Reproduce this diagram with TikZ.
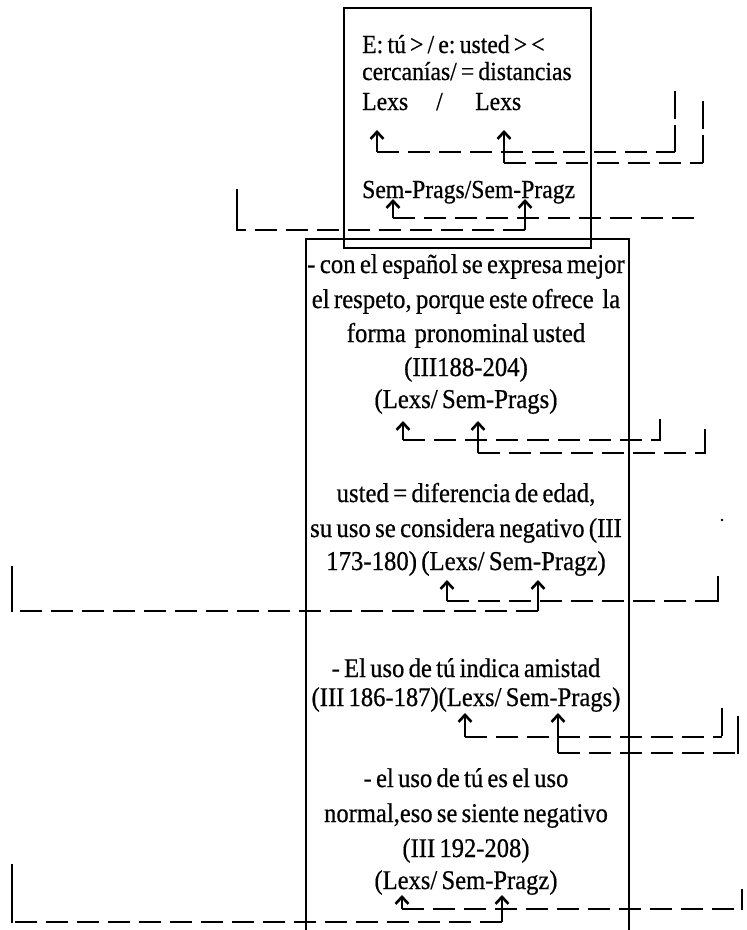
\documentclass[tikz,border=0pt]{standalone}
\usepackage{fontspec}
\setmainfont{Liberation Serif}[FakeStretch=0.91, WordSpace=0.7, FakeBold=0.6]
\usetikzlibrary{arrows.meta}
\begin{document}
\begin{tikzpicture}[x=1pt,y=-1pt,
  link/.style={line width=2.9pt, dash pattern=on 22pt off 9pt},
  vdash/.style={line width=2.9pt, dash pattern=on 28pt off 6pt},
  vsolid/.style={line width=2.9pt},
  tipln/.style={line width=2.9pt, -{Straight Barb[length=7pt,width=13pt,line width=2.6pt]}},
  frame/.style={draw, line width=1.7pt, inner sep=0pt},
  tl/.style={anchor=base west, inner sep=0pt, font=\fontsize{26}{30}\selectfont},
  ml/.style={anchor=base, inner sep=0pt, font=\fontsize{27.2}{31}\selectfont},
  bl/.style={anchor=base, inner sep=0pt, font=\fontsize{27}{31}\selectfont}]
\clip (0,0) rectangle (747,930);
% frames
\node[frame, minimum width=323, minimum height=740, anchor=north west] (mainbox) at (305,238) {};
\node[frame, minimum width=247, minimum height=240, anchor=north west] (topbox) at (343,7) {};
% top box texts
\node[tl] (t1) at (362,53) {E:\,tú > / e:\,usted > <};
\node[tl] (t2) at (362,80) {cercanías/ = distancias};
\node[tl] (t3a) at (362,110) {Lexs};
\node[tl] (t3b) at (436,110) {/};
\node[tl] (t3c) at (475,110) {Lexs};
\node[tl] (t4) at (362,198) {Sem-Prags/Sem-Pragz};
% main box texts
\node[ml] (m1) at (466,273) {- con el español se expresa mejor};
\node[ml] (m2) at (466,308) {el respeto, porque este ofrece\ \ la};
\node[ml] (m3) at (466,342) {forma\ \ pronominal usted};
\node[ml] (m4) at (466,376) {(III188-204)};
\node[ml] (m5) at (466,408) {(Lexs/ Sem-Prags)};
\node[ml] (m6) at (466,502) {usted = diferencia de edad,};
\node[ml] (m7) at (466,537) {su uso se considera negativo (III};
\node[ml] (m8) at (466,570) {173-180) (Lexs/ Sem-Pragz)};
\node[bl] (m9) at (466,677) {- El uso de tú indica amistad};
\node[bl] (m10) at (466,706) {(III 186-187)(Lexs/ Sem-Prags)};
\node[bl] (m11) at (466,787) {- el uso de tú es el uso};
\node[bl] (m12) at (466,822) {normal,eso se siente negativo};
\node[bl] (m13) at (466,857) {(III 192-208)};
\node[bl] (m14) at (466,889) {(Lexs/ Sem-Pragz)};
% connector points: a = arrow tip, c = corner, f = free end
\coordinate (aT1) at (377,130); \coordinate (cT1) at (377,152); \coordinate (fT1) at (675,91);
\coordinate (aT2) at (504,130); \coordinate (cT2) at (504,163); \coordinate (fT2) at (703,101);
\coordinate (aT3) at (393,199); \coordinate (cT3) at (393,218); \coordinate (fT3) at (700,218);
\coordinate (aT4) at (525,199); \coordinate (cT4) at (525,230); \coordinate (fT4) at (237,190);
\coordinate (aM1) at (403,421); \coordinate (cM1) at (403,440); \coordinate (fM1) at (660,420);
\coordinate (aM2) at (478,421); \coordinate (cM2) at (478,453); \coordinate (fM2) at (705,430);
\coordinate (aM3) at (447,580); \coordinate (cM3) at (447,601); \coordinate (fM3) at (718,577);
\coordinate (aM4) at (538,580); \coordinate (cM4) at (538,611); \coordinate (fM4) at (12,567);
\coordinate (aM5) at (465,713); \coordinate (cM5) at (465,737); \coordinate (fM5) at (722,708);
\coordinate (aM6) at (558,713); \coordinate (cM6) at (558,753); \coordinate (fM6) at (738,717);
\coordinate (aM7) at (402,895); \coordinate (cM7) at (402,909); \coordinate (fM7) at (742,890);
\coordinate (aM8) at (502,895); \coordinate (cM8) at (502,922); \coordinate (fM8) at (12,865);
% dashed brackets: horizontal run, then the upright free end
\foreach \k in {T1,T2,T4,M1,M2,M3,M4,M5,M6,M7,M8}{
  \draw[link] (c\k) -- (c\k -| f\k);
  \draw[tipln] (c\k) -- (a\k);
}
\foreach \k in {T4,M1,M2,M3,M4,M6,M7,M8}{
  \draw[vsolid, line cap=rect] (c\k -| f\k) -- (f\k);
}
\foreach \k in {T1,T2,M5}{
  \draw[vdash] (f\k) -- (c\k -| f\k);
}
\draw[link] (cT3) -- (fT3);
\draw[tipln] (cT3) -- (aT3);
% stray dot
\fill (722,520) circle (1.3);
\end{tikzpicture}
\end{document}
